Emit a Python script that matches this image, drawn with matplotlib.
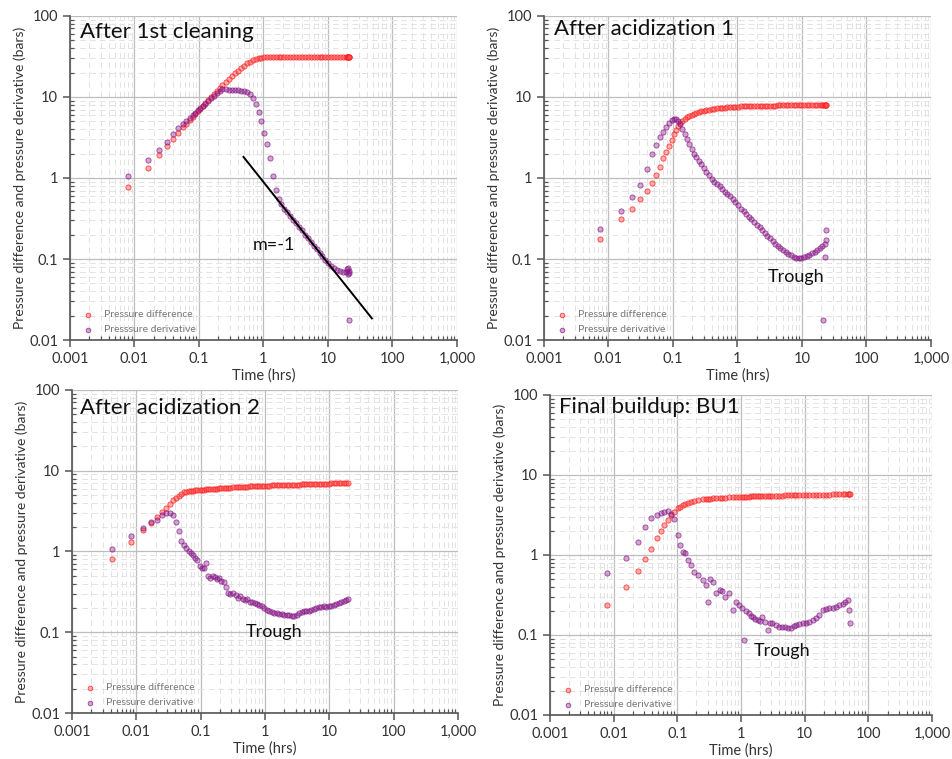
import matplotlib
matplotlib.use('Agg')
import matplotlib.pyplot as plt
from matplotlib.ticker import LogLocator, FixedLocator, FixedFormatter, NullFormatter

plt.rcParams['font.family'] = ['Lato', 'DejaVu Sans']

# --- After 1st cleaning ---
t1 = [0.008, 0.016, 0.024, 0.032, 0.040, 0.048, 0.056, 0.064, 0.072, 0.080, 0.088, 0.096,
      0.105, 0.115, 0.125, 0.14, 0.155, 0.17, 0.19, 0.21, 0.23, 0.26, 0.29, 0.32, 0.36, 0.40,
      0.45, 0.50, 0.56, 0.62, 0.69, 0.76, 0.84, 0.93, 1.03, 1.14, 1.26, 1.40, 1.55, 1.72, 1.9,
      2.1, 2.35, 2.6, 2.9, 3.2, 3.55, 3.95, 4.4, 4.9, 5.4, 6.0, 6.7, 7.4, 8.2, 9.1, 10.1, 11.2,
      12.4, 13.8, 15.3, 17.0, 18.9, 19.5, 20.2, 20.6, 21.0, 21.2, 21.5]
dp1 = [0.78, 1.31, 1.91, 2.46, 3.0, 3.6, 4.2, 4.7, 5.2, 5.7, 6.2, 6.7,
       7.2, 7.8, 8.4, 9.2, 10.0, 10.8, 11.8, 12.9, 13.9, 15.3, 16.7, 18.0, 19.6, 21.1,
       22.8, 24.3, 25.9, 27.3, 28.5, 29.4, 30.1, 30.6, 30.9, 31.0, 31.0, 31.0, 31.0, 31.0, 31.0,
       31.0, 31.0, 31.0, 31.0, 31.0, 31.0, 31.0, 31.0, 31.0, 31.0, 31.0, 31.0, 31.0, 31.0, 31.0,
       31.0, 31.0, 31.0, 31.0, 31.0, 31.0, 31.0, 31.0, 31.0, 31.0, 31.0, 31.0, 31.0]
der1 = [1.06, 1.69, 2.24, 2.79, 3.5, 4.1, 4.6, 5.0, 5.5, 6.0, 6.4, 6.9,
        7.3, 7.8, 8.3, 9.0, 9.7, 10.4, 11.2, 11.9, 12.4, 12.6, 12.3, 12.1, 12.2, 12.1,
        12.0, 11.8, 11.4, 11.0, 9.8, 8.2, 6.6, 5.0, 3.6, 2.6, 1.75, 1.05, 0.72, 0.55, 0.48,
        0.42, 0.38, 0.34, 0.305, 0.275, 0.25, 0.225, 0.2, 0.18, 0.162, 0.146, 0.132, 0.12, 0.108,
        0.098, 0.09, 0.083, 0.078, 0.074, 0.071, 0.07, 0.069, 0.075, 0.066, 0.078, 0.072, 0.068, 0.0177]
slope_t = [0.49, 48.0]
slope_p = [1.82, 0.0185]

# --- After acidization 1 ---
t2 = [0.0075, 0.0155, 0.023, 0.031, 0.039, 0.047, 0.055, 0.063, 0.071, 0.079, 0.087, 0.095,
      0.103, 0.111, 0.12, 0.13, 0.14, 0.152, 0.165, 0.18, 0.195, 0.21, 0.23, 0.25, 0.27, 0.30,
      0.33, 0.36, 0.40, 0.44, 0.48, 0.53, 0.58, 0.64, 0.70, 0.77, 0.85, 0.93, 1.03, 1.13, 1.25,
      1.37, 1.5, 1.65, 1.8, 2.0, 2.2, 2.4, 2.65, 2.9, 3.2, 3.5, 3.85, 4.2, 4.6, 5.1, 5.6, 6.1,
      6.7, 7.4, 8.1, 8.9, 9.8, 10.8, 11.8, 13.0, 14.3, 15.7, 17.2, 18.9, 20.8, 21.2, 22.8,
      23.0, 23.3, 23.6]
dp2 = [0.176, 0.316, 0.41, 0.55, 0.70, 0.87, 1.1, 1.38, 1.74, 2.1, 2.5, 2.95,
       3.45, 3.95, 4.4, 4.75, 5.0, 5.3, 5.6, 5.85, 6.05, 6.25, 6.4, 6.55, 6.7, 6.8,
       6.9, 7.0, 7.1, 7.2, 7.25, 7.3, 7.35, 7.4, 7.45, 7.5, 7.55, 7.6, 7.62, 7.65, 7.68,
       7.7, 7.72, 7.74, 7.75, 7.77, 7.78, 7.79, 7.8, 7.81, 7.82, 7.83, 7.84, 7.85, 7.85, 7.86,
       7.86, 7.87, 7.87, 7.88, 7.88, 7.88, 7.89, 7.89, 7.89, 7.9, 7.9, 7.9, 7.9, 7.9, 7.9,
       7.9, 7.9, 7.9, 7.9, 7.9]
der2 = [0.236, 0.39, 0.575, 0.81, 1.28, 1.96, 2.54, 3.2, 3.7, 4.3, 4.8, 5.2,
        5.4, 5.4, 5.1, 4.6, 4.0, 3.5, 3.0, 2.6, 2.25, 2.0, 1.8, 1.6, 1.48, 1.33,
        1.2, 1.08, 0.98, 0.9, 0.84, 0.79, 0.73, 0.68, 0.64, 0.6, 0.55, 0.5, 0.46, 0.42, 0.39,
        0.36, 0.33, 0.31, 0.285, 0.265, 0.25, 0.23, 0.21, 0.195, 0.18, 0.165, 0.155, 0.145, 0.137,
        0.128, 0.121, 0.116, 0.111, 0.107, 0.104, 0.103, 0.103, 0.105, 0.108, 0.112, 0.117, 0.123,
        0.13, 0.137, 0.145, 0.0177, 0.152, 0.107, 0.23, 0.17]

# --- After acidization 2 ---
t3 = [0.0042, 0.0083, 0.0125, 0.0167, 0.0208, 0.025, 0.029, 0.033, 0.0375, 0.0415, 0.046,
      0.05, 0.055, 0.06, 0.065, 0.07, 0.076, 0.082, 0.089, 0.096, 0.104, 0.112, 0.121, 0.131,
      0.142, 0.154, 0.166, 0.18, 0.195, 0.21, 0.23, 0.25, 0.27, 0.29, 0.32, 0.35, 0.38, 0.41,
      0.45, 0.49, 0.53, 0.58, 0.63, 0.69, 0.75, 0.82, 0.9, 0.98, 1.07, 1.17, 1.28, 1.4, 1.53,
      1.67, 1.82, 2.0, 2.2, 2.4, 2.6, 2.85, 3.1, 3.4, 3.7, 4.05, 4.4, 4.8, 5.25, 5.75, 6.3,
      6.9, 7.5, 8.2, 9.0, 9.8, 10.7, 11.7, 12.8, 14.0, 15.3, 16.7, 18.3, 19.5]
dp3 = [0.8, 1.3, 1.85, 2.24, 2.7, 3.1, 3.5, 3.9, 4.3, 4.6, 4.9,
       5.2, 5.4, 5.5, 5.55, 5.6, 5.65, 5.7, 5.75, 5.78, 5.8, 5.83, 5.86, 5.89,
       5.92, 5.95, 5.98, 6.0, 6.03, 6.06, 6.1, 6.13, 6.16, 6.19, 6.22, 6.25, 6.28, 6.3,
       6.33, 6.35, 6.37, 6.4, 6.42, 6.44, 6.46, 6.48, 6.5, 6.52, 6.54, 6.56, 6.57, 6.59, 6.6,
       6.62, 6.63, 6.65, 6.66, 6.68, 6.7, 6.71, 6.73, 6.74, 6.76, 6.78, 6.79, 6.81, 6.82, 6.84,
       6.86, 6.87, 6.89, 6.9, 6.92, 6.93, 6.95, 6.96, 6.98, 6.99, 7.0, 7.02, 7.03, 7.05]
der3 = [1.07, 1.56, 1.95, 2.29, 2.46, 2.84, 2.98, 3.03, 2.84, 2.35, 1.77,
        1.35, 1.2, 1.1, 1.0, 0.95, 0.9, 0.84, 0.78, 0.66, 0.62, 0.63, 0.72, 0.5,
        0.47, 0.5, 0.48, 0.45, 0.47, 0.43, 0.42, 0.36, 0.31, 0.3, 0.31, 0.29, 0.265, 0.28,
        0.26, 0.25, 0.255, 0.24, 0.24, 0.23, 0.225, 0.22, 0.21, 0.2, 0.19, 0.185, 0.18, 0.175, 0.172,
        0.17, 0.167, 0.165, 0.163, 0.162, 0.161, 0.161, 0.165, 0.172, 0.18, 0.185, 0.183, 0.185, 0.19,
        0.193, 0.197, 0.203, 0.207, 0.21, 0.208, 0.21, 0.213, 0.218, 0.225, 0.232, 0.238, 0.245, 0.25, 0.255]

# --- Final buildup: BU1 ---
t4 = [0.0078, 0.0156, 0.0238, 0.0314, 0.0386, 0.0473, 0.055, 0.0625, 0.0705, 0.0795, 0.0898,
      0.101, 0.11, 0.121, 0.133, 0.145, 0.163, 0.184, 0.215, 0.25, 0.28, 0.30, 0.33, 0.37, 0.41,
      0.46, 0.51, 0.57, 0.65, 0.74, 0.83, 0.93, 1.05, 1.12, 1.2, 1.32, 1.42, 1.52, 1.65, 1.82,
      2.0, 2.17, 2.4, 2.62, 2.85, 3.1, 3.5, 3.95, 4.4, 5.0, 5.5, 6.1, 6.7, 7.3, 8.2, 9.3, 10.5,
      11.8, 13.3, 15.0, 16.9, 19.2, 21.6, 24.3, 27.4, 30.8, 34.7, 39.4, 43.5, 47.2, 50.0, 51.5]
dp4 = [0.237, 0.40, 0.63, 0.88, 1.19, 1.62, 2.0, 2.37, 2.75, 3.16, 3.47,
       3.83, 4.0, 4.2, 4.35, 4.5, 4.62, 4.72, 4.85, 4.95, 5.0, 5.03, 5.07, 5.1, 5.13,
       5.16, 5.2, 5.23, 5.26, 5.29, 5.31, 5.33, 5.35, 5.36, 5.37, 5.38, 5.4, 5.41, 5.42, 5.44,
       5.45, 5.46, 5.47, 5.48, 5.49, 5.5, 5.52, 5.53, 5.54, 5.56, 5.57, 5.58, 5.59, 5.6, 5.61, 5.62, 5.63,
       5.64, 5.65, 5.66, 5.67, 5.68, 5.69, 5.7, 5.71, 5.72, 5.73, 5.74, 5.74, 5.75, 5.75, 5.75]
der4 = [0.60, 0.93, 1.47, 2.26, 2.87, 3.16, 3.31, 3.47, 3.5, 3.3, 2.8,
        1.78, 1.33, 1.1, 1.05, 0.87, 0.75, 0.62, 0.56, 0.49, 0.42, 0.26, 0.5, 0.46, 0.33,
        0.37, 0.35, 0.3, 0.33, 0.205, 0.26, 0.24, 0.215, 0.087, 0.2, 0.187, 0.175, 0.17, 0.16, 0.154,
        0.15, 0.166, 0.145, 0.117, 0.14, 0.14, 0.133, 0.127, 0.125, 0.127, 0.122, 0.121, 0.128, 0.133, 0.137, 0.14, 0.143,
        0.147, 0.152, 0.162, 0.18, 0.205, 0.21, 0.215, 0.218, 0.226, 0.235, 0.245, 0.26, 0.275, 0.205, 0.143]

x_ticks = [0.001, 0.01, 0.1, 1, 10, 100, 1000]
x_labels = ['0.001', '0.01', '0.1', '1', '10', '100', '1,000']
y_ticks = [0.01, 0.1, 1, 10, 100]
y_labels = ['0.01', '0.1', '1', '10', '100']

RED_FACE = (1.0, 0.3, 0.3, 0.45)
RED_EDGE = (1.0, 0.1, 0.1, 0.8)
PUR_FACE = (0.52, 0.08, 0.52, 0.38)
PUR_EDGE = (0.52, 0.08, 0.52, 0.75)


def style_axes(ax):
    ax.set_xscale('log')
    ax.set_yscale('log')
    ax.set_xlim(0.001, 1000)
    ax.set_ylim(0.01, 100)
    ax.xaxis.set_major_locator(FixedLocator(x_ticks))
    ax.xaxis.set_major_formatter(FixedFormatter(x_labels))
    ax.yaxis.set_major_locator(FixedLocator(y_ticks))
    ax.yaxis.set_major_formatter(FixedFormatter(y_labels))
    ax.xaxis.set_minor_locator(LogLocator(base=10, subs=range(2, 10), numticks=20))
    ax.yaxis.set_minor_locator(LogLocator(base=10, subs=range(2, 10), numticks=20))
    ax.xaxis.set_minor_formatter(NullFormatter())
    ax.yaxis.set_minor_formatter(NullFormatter())
    ax.grid(True, which='major', color='#bdbdbd', lw=0.9)
    ax.grid(True, which='minor', color='#e3e3e3', lw=0.7, linestyle=(0, (6, 4)))
    ax.set_axisbelow(True)
    for side in ('top', 'right'):
        ax.spines[side].set_visible(False)
    for side in ('left', 'bottom'):
        ax.spines[side].set_color('#555555')
        ax.spines[side].set_linewidth(1.2)
    ax.tick_params(which='major', direction='out', length=5, width=1.1, color='#555555',
                   labelsize=10.5, labelcolor='#333333')
    ax.tick_params(which='minor', direction='in', length=3, width=0.9, color='#555555')
    ax.set_xlabel('Time (hrs)', fontsize=10.5, color='#333333', labelpad=2)
    ax.set_ylabel('Pressure difference and pressure derivative (bars)', fontsize=10,
                  color='#333333', labelpad=2)


def draw_panel(ax, t, dp, der, title, der_label, title_pos):
    ax.scatter(t, dp, s=14, marker='o', facecolor=RED_FACE, edgecolor=RED_EDGE,
               linewidths=0.6, label='Pressure difference', zorder=3)
    ax.scatter(t, der, s=14, marker='o', facecolor=PUR_FACE, edgecolor=PUR_EDGE,
               linewidths=0.6, label=der_label, zorder=3)
    style_axes(ax)
    ax.text(title_pos[0], title_pos[1], title, transform=ax.transAxes, fontsize=16,
            ha='left', va='center', color='#111111', zorder=5)
    leg = ax.legend(loc='lower left', bbox_to_anchor=(0.0, -0.005), frameon=False,
                    fontsize=7.5, handletextpad=0.6, labelspacing=0.55, markerscale=0.9,
                    borderaxespad=0.3)
    for txt in leg.get_texts():
        txt.set_color('#777777')


fig = plt.figure(figsize=(9.52, 7.59), dpi=100)

ax1 = fig.add_axes([0.0735, 0.552, 0.4065, 0.427])
draw_panel(ax1, t1, dp1, der1, 'After 1st cleaning', 'Presssure derivative', (0.026, 0.95))
ax1.plot(slope_t, slope_p, color='black', lw=1.4, zorder=4)
ax1.text(1.47, 0.148, 'm=-1', fontsize=13, ha='center', va='center', color='#111111')

ax2 = fig.add_axes([0.5714, 0.552, 0.4065, 0.427])
draw_panel(ax2, t2, dp2, der2, 'After acidization 1', 'Pressure derivative', (0.026, 0.959))
ax2.text(8.1, 0.06, 'Trough', fontsize=13, ha='center', va='center', color='#111111')

ax3 = fig.add_axes([0.0756, 0.0606, 0.4055, 0.4256])
draw_panel(ax3, t3, dp3, der3, 'After acidization 2', 'Pressure derivative', (0.021, 0.943))
ax3.text(1.38, 0.1, 'Trough', fontsize=13, ha='center', va='center', color='#111111')

ax4 = fig.add_axes([0.5777, 0.058, 0.4013, 0.4216])
draw_panel(ax4, t4, dp4, der4, 'Final buildup: BU1', 'Pressure derivative', (0.024, 0.963))
ax4.text(4.4, 0.063, 'Trough', fontsize=13, ha='center', va='center', color='#111111')

fig.savefig('out.png', dpi=100, facecolor='white')
plt.close(fig)
